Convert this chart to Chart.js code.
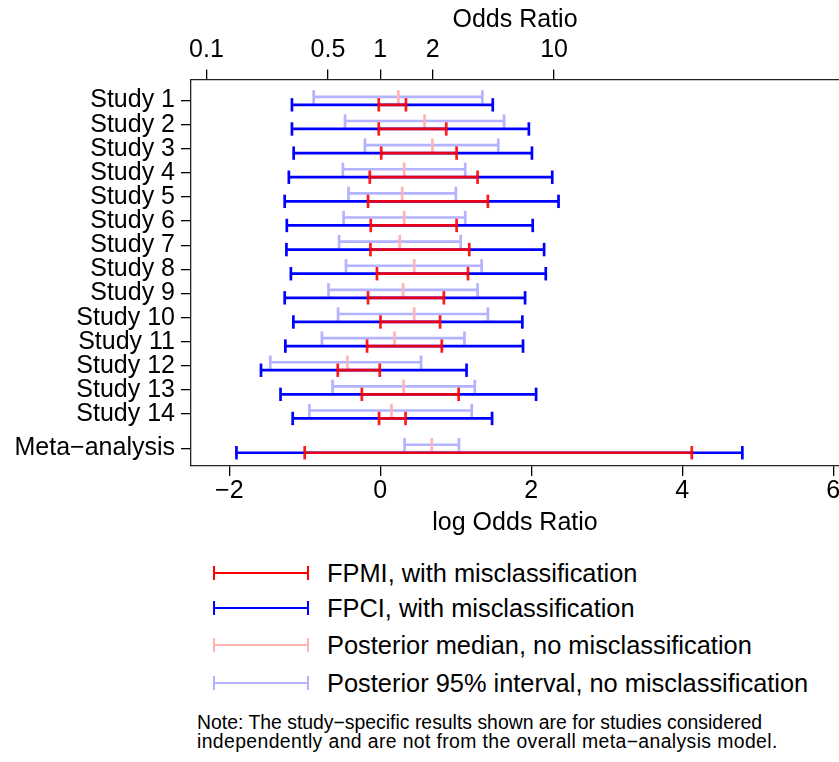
<!DOCTYPE html>
<html>
<head>
<meta charset="utf-8">
<script src="https://cdn.jsdelivr.net/npm/chart.js@4.4.1/dist/chart.umd.min.js"></script>
<style>
  body { margin: 0; background: #fff; font-family: "Liberation Sans", Arial, sans-serif; }
  #wrap { position: relative; width: 839px; height: 762px; overflow: hidden; }
  #plot { position: absolute; left: 0; top: 0; }
  .item { position: absolute; left: 213px; height: 30px; }
  .sym { position: absolute; left: 0; top: 14px; width: 96px; height: 2px; }
  .sym::before, .sym::after { content: ""; position: absolute; top: -6px; width: 2px; height: 14px; background: inherit; }
  .sym::before { left: 0; }
  .sym::after { right: 0; }
  .txt { position: absolute; left: 114px; top: 0; font-size: 25.4px; line-height: 30px; white-space: nowrap; color: #000; }
  .note { position: absolute; left: 197px; top: 713px; font-size: 19.4px; line-height: 19px; color: #000; white-space: nowrap; }
  .note span { letter-spacing: 0.38px; }
</style>
</head>
<body>
<div id="wrap">
  <canvas id="plot" width="839" height="546"></canvas>
  <div id="legend"></div>
  <div class="note">Note: The study−specific results shown are for studies considered<br><span>independently and are not from the overall meta−analysis model.</span></div>
</div>
<script>
// rows, top to bottom
const rowLabels = ["Study 1", "Study 2", "Study 3", "Study 4", "Study 5", "Study 6", "Study 7",
  "Study 8", "Study 9", "Study 10", "Study 11", "Study 12", "Study 13", "Study 14", "Meta\u2212analysis"];
const rowPos = [1, 2, 3, 4, 5, 6, 7, 8, 9, 10, 11, 12, 13, 14, 15.42];

// log odds ratio
const fpciLo = [-1.170, -1.170, -1.147, -1.211, -1.266, -1.238, -1.243, -1.184, -1.266, -1.151, -1.257, -1.580, -1.321, -1.160, -1.905];
const fpciHi = [1.490, 1.968, 2.009, 2.278, 2.361, 2.019, 2.170, 2.192, 1.918, 1.882, 1.891, 1.143, 2.064, 1.481, 4.796];
const fpmiLo = [-0.020, -0.020, 0.012, -0.139, -0.162, -0.126, -0.130, -0.044, -0.162, 0.003, -0.175, -0.563, -0.244, -0.016, -1.001];
const fpmiHi = [0.340, 0.874, 1.011, 1.289, 1.425, 1.011, 1.179, 1.162, 0.842, 0.792, 0.815, -0.007, 1.038, 0.335, 4.126];
const postLo = [-0.882, -0.467, -0.203, -0.495, -0.421, -0.486, -0.545, -0.454, -0.686, -0.559, -0.773, -1.457, -0.632, -0.938, 0.322];
const postHi = [1.352, 1.640, 1.563, 1.125, 1.001, 1.125, 1.065, 1.343, 1.289, 1.425, 1.115, 0.540, 1.252, 1.211, 1.042];
const postMed = [0.240, 0.587, 0.691, 0.317, 0.290, 0.317, 0.258, 0.449, 0.303, 0.449, 0.189, -0.436, 0.309, 0.148, 0.682];

// axis ticks
const logTicks = [-2, 0, 2, 4, 6];
const orTicks = [0.1, 0.5, 1, 2, 10];

const legendItems = [
  { text: "FPMI, with misclassification", color: "#ff0000" },
  { text: "FPCI, with misclassification", color: "#0000ff" },
  { text: "Posterior median, no misclassification", color: "#ffb3b3" },
  { text: "Posterior 95% interval, no misclassification", color: "#b3b3ff" }
];

const FONT = "'Liberation Sans', Arial, sans-serif";
const RED = "rgba(255,0,0,0.9)";
const BLUE = "#0000ff";
const PINK = "#ffb3b3";
const LBLUE = "#b3b3ff";

// each interval is two points, then a gap
function segments(lo, hi, dy) {
  const pts = [];
  rowPos.forEach((r, i) => {
    pts.push({ x: lo[i], y: r + dy }, { x: hi[i], y: r + dy }, { x: null, y: null });
  });
  return pts;
}

function intervalSet(label, lo, hi, dy, color) {
  return {
    label: label,
    data: segments(lo, hi, dy),
    showLine: true,
    borderColor: color,
    borderWidth: 2.7,
    pointStyle: "line",
    rotation: 90,
    pointRadius: 6.7,
    pointBorderWidth: 2.7,
    pointBorderColor: color,
    pointBackgroundColor: color
  };
}

const medians = {
  label: "Posterior median",
  data: rowPos.map((r, i) => ({ x: postMed[i], y: r - 0.15 })),
  showLine: false,
  pointStyle: "line",
  rotation: 90,
  pointRadius: 6.7,
  pointBorderWidth: 2.7,
  pointBorderColor: PINK
};

// first dataset is drawn on top
const datasets = [
  intervalSet("FPMI", fpmiLo, fpmiHi, 0.18, RED),
  intervalSet("FPCI", fpciLo, fpciHi, 0.18, BLUE),
  medians,
  intervalSet("Posterior 95%", postLo, postHi, -0.15, LBLUE)
];

const xMin = -2.507;
const xMax = 6.076;

const tickFont = { size: 25, family: FONT };

new Chart(document.getElementById("plot"), {
  type: "scatter",
  data: { datasets: datasets },
  options: {
    responsive: false,
    animation: false,
    events: [],
    layout: { padding: 0, autoPadding: false },
    plugins: { legend: { display: false }, tooltip: { enabled: false } },
    scales: {
      x: {
        type: "linear",
        position: "bottom",
        min: xMin,
        max: xMax,
        afterBuildTicks: axis => { axis.ticks = logTicks.map(v => ({ value: v })); },
        ticks: {
          color: "#000",
          font: tickFont,
          padding: 0,
          maxRotation: 0,
          autoSkip: false,
          callback: v => (v < 0 ? "\u2212" + Math.abs(v) : String(v))
        },
        grid: { drawOnChartArea: false, drawTicks: true, tickLength: 10, color: "#000", lineWidth: 1.3 },
        border: { color: "#222", width: 1.3 },
        title: { display: true, text: "log Odds Ratio", color: "#000", font: tickFont, padding: { top: 0, bottom: 8 } },
        afterFit: s => { s.height = 80; s.paddingLeft = 0; s.paddingRight = 0; }
      },
      xTop: {
        type: "linear",
        position: "top",
        min: xMin,
        max: xMax,
        afterBuildTicks: axis => { axis.ticks = orTicks.map(v => ({ value: Math.log(v) })); },
        ticks: {
          color: "#000",
          font: tickFont,
          padding: 4,
          maxRotation: 0,
          autoSkip: false,
          callback: (v, i) => String(orTicks[i])
        },
        grid: { drawOnChartArea: false, drawTicks: true, tickLength: 10.5, color: "#000", lineWidth: 1.3 },
        border: { color: "#222", width: 1.3 },
        title: { display: true, text: "Odds Ratio", color: "#000", font: tickFont, padding: { top: 5, bottom: 0 } },
        afterFit: s => { s.height = 80; s.paddingLeft = 0; s.paddingRight = 0; }
      },
      y: {
        type: "linear",
        reverse: true,
        min: 0.15,
        max: 16.15,
        afterBuildTicks: axis => { axis.ticks = rowPos.map(v => ({ value: v })); },
        ticks: {
          color: "#000",
          font: tickFont,
          padding: 6,
          autoSkip: false,
          callback: (v, i) => rowLabels[i]
        },
        grid: { drawOnChartArea: false, drawTicks: true, tickLength: 10, color: "#000", lineWidth: 1.3 },
        border: { color: "#222", width: 1.3 },
        afterFit: s => { s.width = 191; s.paddingTop = 0; s.paddingBottom = 0; }
      }
    }
  }
});

// legend below the plot
const legendTops = [558, 593, 630, 668];
const legendEl = document.getElementById("legend");
legendItems.forEach((item, i) => {
  const row = document.createElement("div");
  row.className = "item";
  row.style.top = legendTops[i] + "px";
  const sym = document.createElement("div");
  sym.className = "sym";
  sym.style.background = item.color;
  const txt = document.createElement("div");
  txt.className = "txt";
  txt.textContent = item.text;
  row.appendChild(sym);
  row.appendChild(txt);
  legendEl.appendChild(row);
});
</script>
</body>
</html>
